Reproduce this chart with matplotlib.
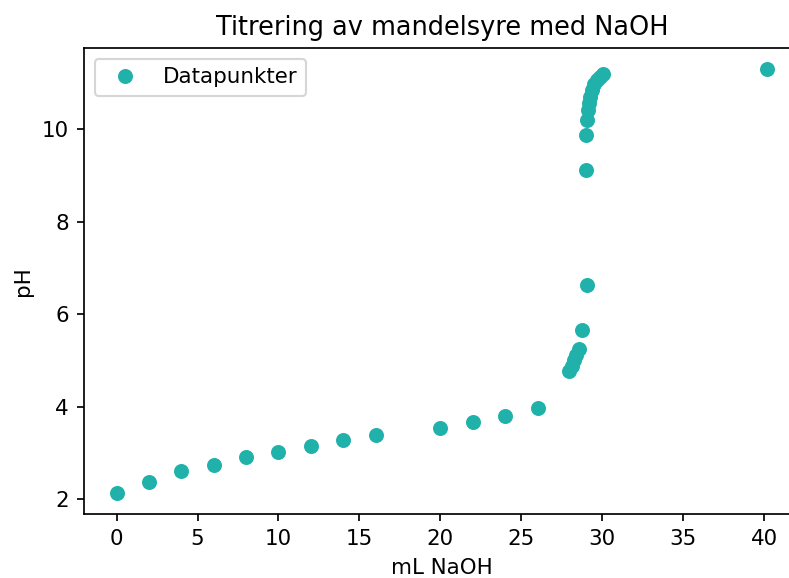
import matplotlib
matplotlib.use("Agg")
import matplotlib.pyplot as plt
import numpy as np

# Titreringsdata: tilsatt volum NaOH (mL) og målt pH
ml_naoh = [0, 2, 4, 6, 8, 10, 12, 14, 16, 20, 22, 24, 26,
           27.95, 28.1, 28.25, 28.4, 28.55, 28.75, 29.05,
           29.0, 29.0, 29.05, 29.1, 29.15, 29.25, 29.35, 29.5, 29.65, 29.85, 30.05,
           40.2]
ph = [2.14, 2.38, 2.62, 2.74, 2.92, 3.02, 3.15, 3.29, 3.39, 3.53, 3.66, 3.80, 3.98,
      4.77, 4.87, 5.00, 5.12, 5.24, 5.66, 6.62,
      9.12, 9.87, 10.20, 10.40, 10.55, 10.70, 10.85, 10.96, 11.06, 11.13, 11.19,
      11.29]

fig = plt.figure(figsize=(789/154, 578/154), dpi=154)
ax = fig.add_axes([0.1065, 0.1107, 0.9075, 0.8062])

ax.plot(ml_naoh, ph, 'o', color='lightseagreen', label='Datapunkter')
ax.set_title('Titrering av mandelsyre med NaOH')
ax.set_xlabel('mL NaOH')
ax.set_ylabel('pH')
ax.set_xticks(np.arange(0, 45, 5))
ax.legend(loc='upper left')

fig.savefig('out.png', dpi=154)
